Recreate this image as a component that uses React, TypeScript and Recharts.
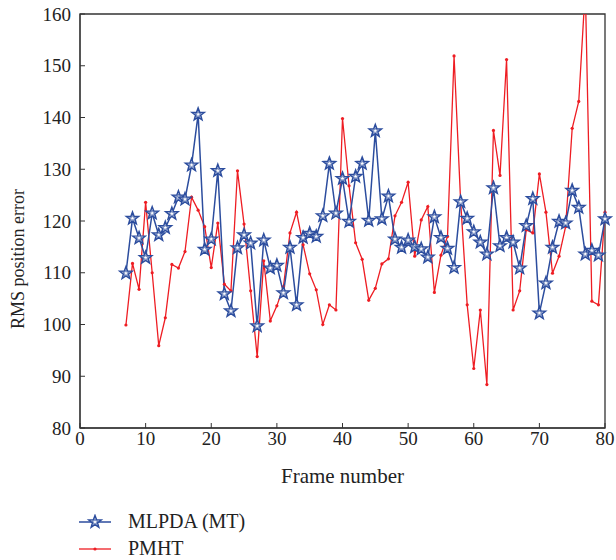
import { LineChart, Line, XAxis, YAxis, ReferenceArea, Legend } from "recharts";

const frames = [
  7, 8, 9, 10, 11, 12, 13, 14, 15, 16, 17, 18, 19, 20, 21, 22, 23, 24, 25, 26,
  27, 28, 29, 30, 31, 32, 33, 34, 35, 36, 37, 38, 39, 40, 41, 42, 43, 44, 45, 46,
  47, 48, 49, 50, 51, 52, 53, 54, 55, 56, 57, 58, 59, 60, 61, 62, 63, 64, 65, 66,
  67, 68, 69, 70, 71, 72, 73, 74, 75, 76, 77, 78, 79, 80,
];

const mlpda = [
  109.9, 120.5, 116.7, 112.9, 121.5, 117.3, 118.7, 121.4, 124.6, 124.2,
  130.8, 140.6, 114.5, 116.5, 129.7, 105.9, 102.6, 114.8, 117.3, 115.7,
  99.7, 116.3, 110.9, 111.4, 106.1, 114.9, 103.8, 116.8, 117.6, 117.0,
  121.0, 131.1, 121.5, 128.2, 119.9, 128.6, 131.1, 120.1, 137.4, 120.4,
  124.8, 116.5, 114.9, 116.3, 115.0, 114.6, 113.0, 120.8, 116.8, 114.7,
  111.0, 123.7, 120.5, 117.9, 115.9, 113.6, 126.4, 115.2, 116.8, 115.9,
  110.9, 119.1, 124.3, 102.2, 108.0, 114.9, 119.9, 119.6, 125.9, 122.6,
  113.6, 114.3, 113.4, 120.4,
];

const pmht = [
  99.9, 111.8, 106.8, 123.6, 110.0, 95.9, 101.3, 111.6, 110.9, 114.1,
  124.6, 122.1, 118.9, 111.0, 119.6, 107.8, 106.5, 129.7, 119.4, 106.5,
  93.8, 112.3, 100.7, 103.6, 107.3, 117.7, 121.7, 115.4, 109.8, 106.7,
  100.0, 103.8, 102.8, 139.8, 126.8, 115.8, 112.6, 104.7, 107.0, 111.7,
  112.7, 121.0, 123.6, 127.5, 113.2, 120.2, 122.8, 106.2, 113.4, 117.0,
  151.9, 123.8, 103.8, 91.5, 102.8, 88.4, 137.5, 128.8, 151.2, 102.8,
  106.5, 118.3, 117.7, 129.1, 121.7, 109.9, 113.2, 118.9, 137.9, 143.1,
  165.0, 104.5, 103.8, 121.7,
];

const xTicks = [0, 10, 20, 30, 40, 50, 60, 70, 80];
const yTicks = [80, 90, 100, 110, 120, 130, 140, 150, 160];

const data = frames.map((f, i) => ({ frame: f, mlpda: mlpda[i], pmht: pmht[i] }));

const BLUE = "#2c4d9e";
const RED = "#ee1d23";
const AXIS = "#333";
const FONT = "'Liberation Serif', 'DejaVu Serif', serif";

function starPath(cx: number, cy: number, R: number, r: number) {
  let d = "";
  for (let k = 0; k < 10; k++) {
    const rad = k % 2 === 0 ? R : r;
    const a = -Math.PI / 2 + (k * Math.PI) / 5;
    d += (k === 0 ? "M" : "L") + (cx + rad * Math.cos(a)).toFixed(2) + "," + (cy + rad * Math.sin(a)).toFixed(2);
  }
  return d + "Z";
}

function Star({ cx, cy }: { cx: number; cy: number }) {
  return (
    <g>
      <path d={starPath(cx, cy, 6.5, 2.7)} fill="#fff" stroke={BLUE} strokeWidth={1.5} />
      <path d={starPath(cx, cy, 3.2, 1.3)} fill="none" stroke={BLUE} strokeWidth={0.6} />
    </g>
  );
}

function renderLegend() {
  return (
    <div style={{ fontFamily: FONT, fontSize: 20, color: "#222", lineHeight: "27px" }}>
      <div style={{ display: "flex", alignItems: "center", height: 27 }}>
        <svg width={32} height={16}>
          <line x1={0} y1={8} x2={32} y2={8} stroke={BLUE} strokeWidth={1.5} />
          <Star cx={16} cy={8} />
        </svg>
        <span style={{ marginLeft: 17 }}>MLPDA (MT)</span>
      </div>
      <div style={{ display: "flex", alignItems: "center", height: 27 }}>
        <svg width={32} height={16}>
          <line x1={0} y1={8} x2={32} y2={8} stroke={RED} strokeWidth={1.3} />
          <circle cx={16} cy={8} r={1.6} fill={RED} />
        </svg>
        <span style={{ marginLeft: 17 }}>PMHT</span>
      </div>
    </div>
  );
}

export default function App() {
  const tickStyle = { fontFamily: FONT, fontSize: 19, fill: "#222" };
  return (
    <div style={{ position: "absolute", left: 0, top: 0, width: 616, height: 560, background: "#fff" }}>
      <LineChart width={616} height={560} data={data} margin={{ top: 14, right: 11, bottom: 72, left: 0 }}>
        <XAxis
          dataKey="frame"
          type="number"
          domain={[0, 80]}
          ticks={xTicks}
          height={60}
          stroke={AXIS}
          tickSize={-5}
          tickMargin={9}
          tick={tickStyle}
          label={{ value: "Frame number", position: "center", dy: 18, style: { fontFamily: FONT, fontSize: 21, fill: "#222" } }}
        />
        <YAxis
          type="number"
          domain={[80, 160]}
          ticks={yTicks}
          allowDataOverflow
          width={80}
          stroke={AXIS}
          tickSize={-5}
          tickMargin={14}
          tick={tickStyle}
          label={{ value: "RMS position error", angle: -90, position: "center", dx: -22, dy: 38, style: { fontFamily: FONT, fontSize: 18, fill: "#222", textAnchor: "middle" } }}
        />
        <ReferenceArea x1={0} x2={80} y1={80} y2={160} fill="none" stroke={AXIS} strokeWidth={1.3} ifOverflow="visible" />
        <Line
          dataKey="pmht"
          type="linear"
          stroke={RED}
          strokeWidth={1.3}
          dot={(p: any) => <circle key={`p${p.index}`} cx={p.cx} cy={p.cy} r={1.6} fill={RED} />}
          isAnimationActive={false}
        />
        <Line
          dataKey="mlpda"
          type="linear"
          stroke={BLUE}
          strokeWidth={1.5}
          dot={(p: any) => <Star key={`m${p.index}`} cx={p.cx} cy={p.cy} />}
          isAnimationActive={false}
        />
        <Legend
          layout="vertical"
          align="center"
          verticalAlign="middle"
          content={renderLegend}
          wrapperStyle={{ left: 79, top: 508, width: "auto" }}
        />
      </LineChart>
    </div>
  );
}
